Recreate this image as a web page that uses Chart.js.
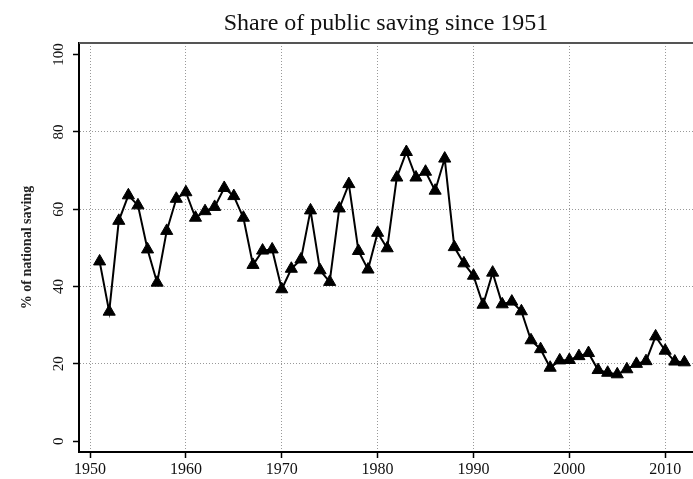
<!DOCTYPE html>
<html>
<head>
<meta charset="utf-8">
<script src="https://cdn.jsdelivr.net/npm/chart.js@4.4.1/dist/chart.umd.min.js"></script>
<style>
  html, body { margin: 0; padding: 0; background: #fff; }
  #wrap { width: 693px; height: 479px; }
</style>
</head>
<body>
<div id="wrap"><canvas id="myChart" width="693" height="479"></canvas></div>

<script>
    // years and public share of national saving (%)
    var years = [1951, 1952, 1953, 1954, 1955, 1956, 1957, 1958, 1959, 1960,
                 1961, 1962, 1963, 1964, 1965, 1966, 1967, 1968, 1969, 1970,
                 1971, 1972, 1973, 1974, 1975, 1976, 1977, 1978, 1979, 1980,
                 1981, 1982, 1983, 1984, 1985, 1986, 1987, 1988, 1989, 1990,
                 1991, 1992, 1993, 1994, 1995, 1996, 1997, 1998, 1999, 2000,
                 2001, 2002, 2003, 2004, 2005, 2006, 2007, 2008, 2009, 2010,
                 2011, 2012];
    var publicShare = [46.5, 33.5, 57.0, 63.6, 61.0, 49.6, 41.0, 54.4, 62.7, 64.4,
                       57.8, 59.5, 60.6, 65.5, 63.4, 57.8, 45.6, 49.3, 49.6, 39.3,
                       44.6, 47.0, 59.7, 44.2, 41.2, 60.2, 66.5, 49.2, 44.4, 53.9,
                       49.9, 68.2, 74.8, 68.2, 69.7, 64.8, 73.1, 50.2, 46.0, 42.8,
                       35.3, 43.6, 35.4, 36.1, 33.6, 26.1, 23.8, 19.0, 20.9, 21.0,
                       22.0, 22.8, 18.4, 17.7, 17.3, 18.6, 20.0, 20.7, 27.1, 23.4,
                       20.6, 20.4];
    var xTicks = [1950, 1960, 1970, 1980, 1990, 2000, 2010];
    var yTicks = [0, 20, 40, 60, 80, 100];

    var points = years.map(function(y, i) { return { x: y, y: publicShare[i] }; });

    // top frame line (left and bottom come from the axes)
    var framePlugin = {
        id: 'frameTop',
        afterDraw: function(chart) {
            var ctx = chart.ctx;
            var a = chart.chartArea;
            ctx.save();
            ctx.strokeStyle = '#555';
            ctx.lineWidth = 2;
            ctx.beginPath();
            ctx.moveTo(a.left, a.top);
            ctx.lineTo(a.right, a.top);
            ctx.stroke();
            ctx.restore();
        }
    };

    var ctx = document.getElementById('myChart').getContext('2d');
    var myChart = new Chart(ctx, {
        type: 'line',
        data: {
            datasets: [{
                data: points,
                borderColor: '#000',
                borderWidth: 2,
                pointStyle: 'triangle',
                pointRadius: 7,
                pointBackgroundColor: '#000',
                pointBorderColor: '#000',
                pointBorderWidth: 1,
                tension: 0
            }]
        },
        options: {
            responsive: false,
            animation: false,
            layout: { padding: 0, autoPadding: false }, // plot runs to the right edge
            plugins: {
                legend: { display: false },
                tooltip: { enabled: false },
                title: {
                    display: true,
                    text: 'Share of public saving since 1951',
                    fullSize: false,
                    color: '#111',
                    font: { family: 'Liberation Serif', size: 24, weight: 'normal' },
                    padding: { top: 9, bottom: 5.2 }
                }
            },
            scales: {
                x: {
                    type: 'linear',
                    min: 1948.85,
                    max: 2012.9,
                    afterBuildTicks: function(scale) {
                        scale.ticks = xTicks.map(function(v) { return { value: v }; });
                    },
                    afterFit: function(scale) {
                        scale.height = 27;
                        scale.paddingLeft = 0;
                        scale.paddingRight = 0;
                    },
                    grid: {
                        color: '#999',
                        lineWidth: 1,
                        tickLength: 6,
                        tickColor: '#000',
                        tickWidth: 1.5,
                        tickBorderDash: []
                    },
                    border: { display: true, color: '#000', width: 2, dash: [1, 2] },
                    ticks: {
                        color: '#111',
                        padding: 2,
                        maxRotation: 0,
                        font: { family: 'Liberation Serif', size: 16 },
                        callback: function(v) { return String(v); }
                    }
                },
                y: {
                    min: -2.8,
                    max: 103,
                    afterBuildTicks: function(scale) {
                        scale.ticks = yTicks.map(function(v) { return { value: v }; });
                    },
                    afterFit: function(scale) { scale.width = 79; },
                    grid: {
                        color: function(c) {
                            var v = c.tick ? c.tick.value : null;
                            return (v === 0 || v === 100) ? 'rgba(0,0,0,0)' : '#999';
                        },
                        lineWidth: 1,
                        tickLength: 6,
                        tickColor: '#000',
                        tickWidth: 1.5,
                        tickBorderDash: []
                    },
                    border: { display: true, color: '#000', width: 2, dash: [1, 2] },
                    ticks: {
                        color: '#111',
                        padding: 3,
                        minRotation: 90,
                        maxRotation: 90,
                        crossAlign: 'center',
                        font: { family: 'Liberation Serif', size: 15 }
                    },
                    title: {
                        display: true,
                        text: '% of national saving',
                        color: '#222',
                        font: { family: 'Liberation Serif', size: 14, weight: 'bold' },
                        padding: { top: 19, bottom: 0 }
                    }
                }
            }
        },
        plugins: [framePlugin]
    });
</script>
</body>
</html>
